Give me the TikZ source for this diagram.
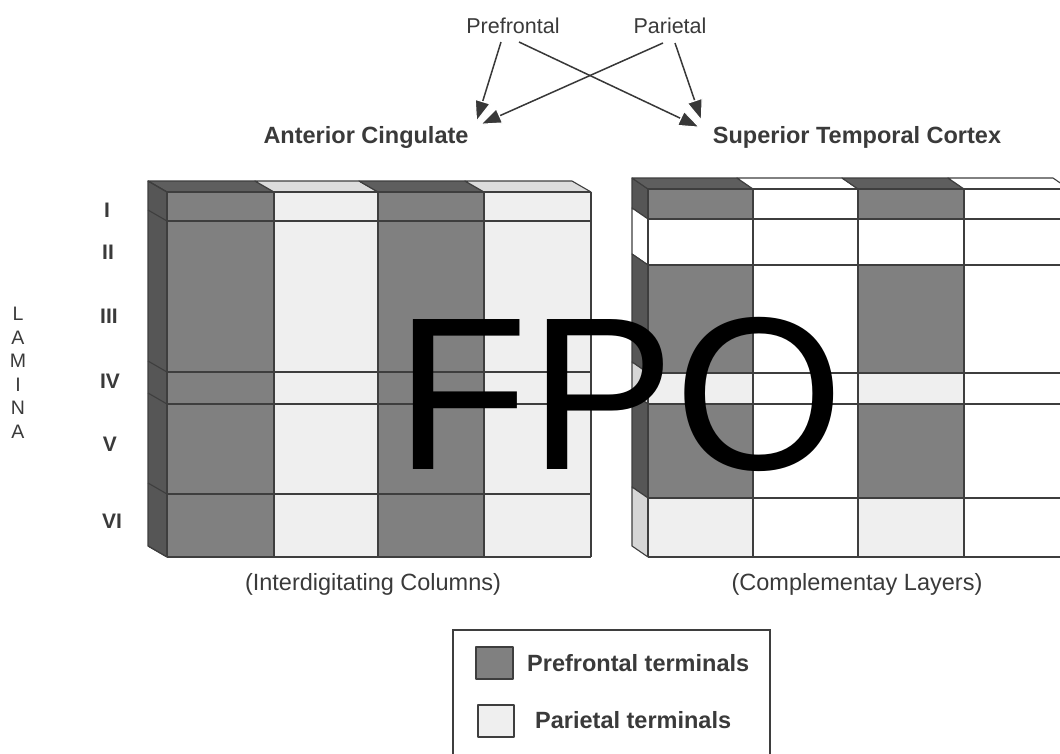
\documentclass[tikz,border=0pt]{standalone}
\usepackage{fontspec}
\setmainfont{Liberation Sans}
\usetikzlibrary{arrows.meta}

\definecolor{darkcell}{HTML}{808080}
\definecolor{lightcell}{HTML}{EFEFEF}
\definecolor{sidedark}{HTML}{565656}
\definecolor{sidelight}{HTML}{D6D6D6}
\definecolor{topdark}{HTML}{5E5E5E}
\definecolor{toplight}{HTML}{DCDCDC}
\definecolor{gridc}{HTML}{3E3E3E}
\definecolor{txt}{HTML}{3A3A3A}
\definecolor{arrowc}{HTML}{383838}

\begin{document}
\begin{tikzpicture}[x=1pt,y=-1pt,
  lbl/.style={inner sep=0pt, text=txt, anchor=base, font=\fontsize{21.5}{24}\selectfont},
  caption/.style={inner sep=0pt, text=txt, anchor=base, font=\fontsize{23.5}{26}\selectfont},
  head/.style={inner sep=0pt, text=txt, anchor=base, font=\bfseries\fontsize{23.5}{26}\selectfont},
  lamina/.style={inner sep=0pt, text=txt, anchor=base, font=\bfseries\fontsize{21}{24}\selectfont},
  gridline/.style={draw=gridc, line width=1.1pt, line join=round},
  conn/.style={draw=arrowc, line width=1.5pt,
    -{Triangle[length=23pt,width=17pt,color=white,fill=arrowc,line width=1.2pt]}},
]
% page frame
\useasboundingbox (0,0) rectangle (1060,753);
\fill[white] (0,0) rectangle (1060,753);
\clip (0,0) rectangle (1060,753);

% ---------- left block: interdigitating columns ----------
\foreach \a/\b/\c/\t in {167/274/darkcell/topdark, 274/378/lightcell/toplight,
                        378/484/darkcell/topdark, 484/591/lightcell/toplight}{
  \fill[\c] (\a,192) rectangle (\b,557);
  \filldraw[gridline, fill=\t] (\a,192) -- ({\a-19},181) -- ({\b-19},181) -- (\b,192) -- cycle;
}
\filldraw[gridline, fill=sidedark] (167,192) -- (148,181) -- (148,546) -- (167,557) -- cycle;
\foreach \y in {192,221,372,404,494,557}{
  \draw[gridline] (167,\y) -- (591,\y);
  \draw[gridline] (167,\y) -- (148,{\y-11});
}
\foreach \x in {167,274,378,484,591}
  \draw[gridline] (\x,192) -- (\x,557);

% ---------- right block: complementary layers ----------
\foreach \t/\b/\c/\s in {189/219/darkcell/sidedark, 219/265/white/white,
                        265/373/darkcell/sidedark, 373/404/lightcell/sidelight,
                        404/498/darkcell/sidedark, 498/557/lightcell/sidelight}{
  \fill[\c] (648,\t) rectangle (753,\b);
  \fill[\c] (858,\t) rectangle (964,\b);
  \filldraw[gridline, fill=\s] (648,\t) -- (632,{\t-11}) -- (632,{\b-11}) -- (648,\b) -- cycle;
}
\foreach \a/\b/\c in {648/753/topdark, 753/858/white, 858/964/topdark, 964/1069/white}
  \filldraw[gridline, fill=\c] (\a,189) -- ({\a-16},178) -- ({\b-16},178) -- (\b,189) -- cycle;
\foreach \y in {189,219,265,373,404,498,557}
  \draw[gridline] (648,\y) -- (1069,\y);
\foreach \x in {648,753,858,964,1069}
  \draw[gridline] (\x,189) -- (\x,557);

% ---------- projection labels and arrows ----------
\node[lbl]  (pf)  at (513,33)  {Prefrontal};
\node[lbl]  (pa)  at (670,33)  {Parietal};
\node[head] (ac)  at (366,143) {Anterior Cingulate};
\node[head] (stc) at (857,143) {Superior Temporal Cortex};

\draw[conn] ([shift={(-12,9)}]pf.base)  -- ([shift={(110,-20)}]ac.base);
\draw[conn] ([shift={(-7,10)}]pa.base)  -- ([shift={(113,-18)}]ac.base);
\draw[conn] ([shift={(6,9)}]pf.base)    -- ([shift={(-156,-15)}]stc.base);
\draw[conn] ([shift={(5,10)}]pa.base)   -- ([shift={(-155,-21)}]stc.base);

% ---------- laminae ----------
\node[lamina] (l1) at (107,217) {I};
\node[lamina] (l2) at (108,259) {II};
\node[lamina] (l3) at (109,323) {III};
\node[lamina] (l4) at (110,388) {IV};
\node[lamina] (l5) at (110,451) {V};
\node[lamina] (l6) at (112,528) {VI};

\node[inner sep=0pt, text=txt, anchor=north, align=center,
      font=\fontsize{19.5}{23.5}\selectfont] (lam) at (18,307) {L\\A\\M\\I\\N\\A};

% ---------- captions ----------
\node[caption] (capL) at (373,590) {(Interdigitating Columns)};
\node[caption] (capR) at (857,590) {(Complementay Layers)};

% ---------- overprint ----------
\node[inner sep=0pt, anchor=base, text=black,
      font=\fontsize{218}{230}\selectfont] (fpo) at (620,469) {FPO};

% ---------- legend ----------
\draw[draw=gridc, line width=1.2pt] (453,630) rectangle (770,770);
\filldraw[gridline, fill=darkcell] (476,647) rectangle (513,679);
\filldraw[gridline, fill=lightcell] (478,705) rectangle (514,737);
\node[head, anchor=base west] (legpf) at (527,671) {Prefrontal terminals};
\node[head, anchor=base west] (legpa) at (535,728) {Parietal terminals};
\end{tikzpicture}
\end{document}
